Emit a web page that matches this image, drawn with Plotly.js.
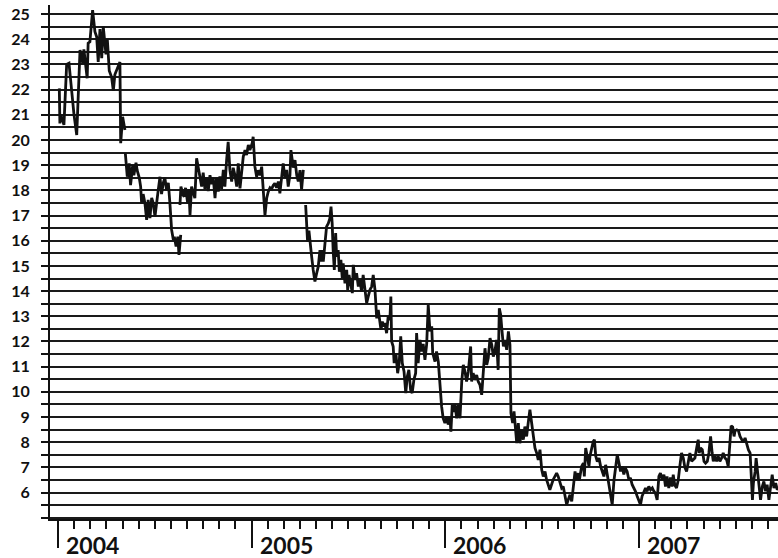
<!DOCTYPE html>
<html>
<head>
<meta charset="utf-8">
<script src="https://cdn.plot.ly/plotly-3.0.1.min.js"></script>
<style>html,body{margin:0;padding:0;background:#fff;}#chart{width:778px;height:558px;}</style>
</head>
<body>
<div id="chart"></div>
<script>
// decimal-year time axis; null marks a gap in the series
const t = [
2004.007,2004.010,2004.015,2004.031,2004.045,2004.057,2004.083,2004.097,2004.114,2004.128,2004.134,2004.145,2004.151,2004.156,2004.165,2004.179,2004.191,2004.200,2004.208,2004.217,2004.226,2004.234,2004.248,2004.255,2004.265,2004.277,2004.286,2004.294,2004.320,2004.324,2004.334,2004.346,
null,
2004.348,2004.358,2004.368,2004.375,2004.386,2004.392,2004.403,2004.409,2004.420,2004.427,2004.432,2004.440,2004.449,2004.458,2004.466,2004.475,2004.484,2004.492,2004.501,2004.510,2004.518,2004.527,2004.535,2004.544,2004.552,2004.561,2004.570,2004.578,2004.587,2004.596,2004.601,2004.610,2004.619,2004.625,2004.634,
null,
2004.630,2004.635,2004.647,2004.652,2004.659,2004.670,2004.676,2004.682,2004.690,2004.699,2004.707,2004.716,2004.724,2004.733,2004.742,2004.750,2004.759,2004.768,2004.776,2004.785,2004.794,2004.802,2004.811,2004.819,2004.828,2004.836,2004.845,2004.854,2004.862,2004.871,2004.879,2004.888,2004.897,2004.905,2004.914,2004.923,2004.931,2004.940,2004.948,2004.957,2004.966,2004.974,2004.983,2004.991,2005.003,2005.008,2005.017,2005.026,2005.034,2005.043,2005.052,2005.060,2005.069,2005.078,2005.086,2005.095,2005.103,2005.112,2005.120,2005.129,2005.138,2005.146,2005.155,2005.163,2005.172,2005.181,2005.189,2005.198,2005.203,2005.210,2005.215,2005.224,2005.233,2005.241,2005.250,2005.258,2005.267,
null,
2005.279,2005.284,2005.289,2005.296,2005.301,2005.310,2005.318,2005.327,2005.336,2005.344,2005.353,2005.358,2005.365,2005.370,2005.379,2005.387,2005.396,2005.404,2005.410,2005.416,2005.421,2005.427,2005.434,2005.439,2005.447,2005.453,2005.461,2005.468,2005.473,2005.482,2005.491,2005.496,2005.503,2005.513,2005.520,2005.525,2005.534,2005.542,2005.551,2005.559,2005.568,2005.576,2005.585,2005.594,2005.602,2005.611,2005.620,2005.628,2005.637,2005.642,2005.646,2005.654,2005.663,2005.668,2005.675,2005.683,2005.688,2005.697,2005.705,2005.714,2005.719,2005.723,2005.731,2005.736,2005.745,2005.754,2005.762,2005.770,2005.778,2005.787,2005.796,2005.804,2005.812,2005.821,2005.829,2005.838,2005.847,2005.852,2005.860,2005.869,2005.878,2005.886,2005.895,2005.904,2005.912,2005.921,2005.930,2005.935,2005.947,2005.955,2005.964,2005.972,2005.981,2005.989,2005.998,2006.007,2006.015,2006.024,2006.029,2006.036,2006.045,2006.050,2006.059,2006.067,2006.076,2006.085,2006.093,2006.102,2006.110,2006.119,2006.127,2006.131,2006.136,2006.144,2006.153,2006.162,2006.170,2006.179,2006.188,2006.196,2006.205,2006.214,2006.222,2006.231,2006.240,2006.248,2006.256,2006.265,2006.273,2006.279,2006.286,2006.291,2006.300,2006.308,2006.317,2006.326,2006.334,2006.339,2006.348,2006.355,2006.364,2006.369,2006.377,2006.385,2006.394,2006.403,2006.411,2006.420,2006.428,2006.437,2006.446,2006.454,2006.463,2006.472,2006.480,2006.489,2006.498,2006.506,2006.515,2006.523,2006.532,2006.540,2006.557,2006.575,2006.583,2006.592,2006.601,2006.609,2006.618,2006.627,2006.635,2006.644,2006.653,2006.661,2006.670,2006.678,2006.687,2006.692,2006.699,2006.704,2006.713,2006.718,2006.725,2006.733,2006.742,2006.747,2006.756,2006.764,2006.770,2006.777,2006.785,2006.794,2006.802,2006.811,2006.819,2006.828,2006.836,2006.845,2006.854,2006.862,2006.871,2006.879,2006.888,2006.897,2006.905,2006.913,2006.922,2006.930,2006.939,2006.948,2006.956,2006.965,2006.974,2006.982,2006.991,2006.999,2007.008,2007.016,2007.025,2007.034,2007.042,2007.051,2007.060,2007.069,2007.077,2007.085,2007.094,2007.103,2007.111,2007.120,2007.129,2007.137,2007.145,2007.154,2007.163,2007.171,2007.177,2007.185,2007.194,2007.203,2007.211,2007.220,2007.229,2007.237,2007.246,2007.254,2007.263,2007.272,2007.280,2007.289,2007.298,2007.306,2007.311,2007.318,2007.327,2007.336,2007.344,2007.353,2007.361,2007.370,2007.378,2007.384,2007.392,2007.401,2007.409,2007.418,2007.427,2007.435,2007.444,2007.453,2007.461,2007.470,2007.476,2007.484,2007.491,2007.496,2007.505,2007.514,2007.522,2007.531,2007.539,2007.548,2007.557,2007.565,2007.574,2007.579,2007.586,2007.591,2007.600,2007.605,2007.613,2007.620,2007.628,2007.637,2007.645,2007.654,2007.662,2007.671,2007.680,2007.688,2007.697,2007.706,2007.714,2007.723
];
const price = [
22.05,20.66,21.0,20.6,23.0,23.05,21.0,20.2,23.57,23.05,23.6,22.9,22.45,23.84,23.9,25.16,24.3,24.1,23.1,24.4,23.25,24.5,23.4,24.0,22.75,22.5,21.95,22.6,23.1,19.87,20.92,20.4,
null,
19.47,18.54,19.07,18.21,19.0,18.6,19.1,18.8,18.5,18.15,17.49,17.85,17.5,16.83,17.62,16.9,17.7,17.5,16.96,17.62,18.02,18.54,17.85,18.3,18.5,18.0,18.3,17.5,16.43,16.03,16.16,15.77,16.16,15.44,16.23,
null,
17.42,18.15,17.8,17.75,18.1,17.49,18.05,17.02,18.15,17.95,17.69,19.27,18.9,18.41,18.15,18.7,18.05,18.5,17.97,18.6,18.25,18.5,17.69,18.5,17.95,18.55,18.05,18.81,18.15,19.21,19.93,18.8,18.35,18.9,18.6,18.15,19.07,18.08,18.8,19.34,19.6,19.4,19.8,19.6,19.87,20.13,18.94,18.54,18.8,18.6,18.94,18.0,17.02,17.7,17.95,18.1,18.05,18.2,18.28,18.1,18.35,17.88,18.5,19.07,18.5,18.81,18.15,18.6,19.6,19.07,18.9,19.2,18.6,18.35,18.8,18.02,18.81,
null,
17.42,16.43,15.96,16.4,15.9,15.37,14.84,14.38,14.71,14.97,15.63,15.17,15.63,15.17,15.9,16.56,16.69,16.89,17.35,16.69,15.63,14.84,16.3,15.37,15.63,14.77,15.24,14.51,15.1,14.31,14.84,14.05,14.64,14.18,13.92,15.04,14.44,14.71,14.18,14.44,13.98,14.64,14.05,13.52,13.78,14.05,14.18,14.64,14.05,13.45,12.92,13.25,12.73,12.46,12.79,12.59,12.73,12.33,12.99,12.86,13.78,12.0,11.8,11.14,11.54,10.74,11.14,12.2,11.14,10.81,9.95,10.61,10.87,10.08,9.95,10.48,10.74,12.33,11.14,12.06,11.6,11.9,11.27,11.9,13.45,12.4,12.6,11.54,11.2,11.6,11.2,10.21,9.42,8.95,8.76,9.0,8.7,9.0,8.42,9.48,9.2,9.5,8.95,9.48,8.95,10.41,11.07,10.8,10.41,10.8,11.4,11.8,10.41,10.74,10.47,10.67,10.41,10.28,9.88,10.6,11.73,11.07,11.34,12.13,11.87,11.4,11.6,12.06,10.87,13.32,13.06,12.59,11.8,12.06,11.67,12.4,11.87,9.15,8.76,9.22,8.49,7.96,8.76,7.96,8.49,8.1,8.62,8.23,8.76,9.29,8.76,8.23,7.77,7.57,7.3,7.7,6.9,6.64,6.84,6.51,6.31,6.11,6.51,6.77,6.64,6.38,6.18,6.24,5.85,5.52,5.72,5.91,5.65,6.24,6.84,6.51,6.77,6.48,6.84,7.04,7.17,6.64,7.77,7.37,7.04,7.44,7.83,8.03,8.1,7.44,7.23,7.37,7.04,6.77,6.64,7.1,6.72,6.18,5.91,5.52,6.48,7.1,7.5,7.17,6.84,7.04,6.72,6.97,6.84,6.51,6.58,6.31,6.18,6.05,5.85,5.72,5.52,5.85,6.05,6.18,6.05,6.24,6.11,6.18,6.05,5.98,5.71,6.64,6.77,6.51,6.71,6.24,6.64,6.18,6.6,6.24,6.71,6.3,6.18,6.5,7.04,7.57,7.37,7.0,6.84,7.2,7.57,7.24,7.3,7.37,7.77,8.1,7.57,7.77,7.7,7.24,7.17,7.24,7.57,8.23,7.57,7.24,7.44,7.24,7.44,7.24,7.37,7.57,7.37,7.3,7.04,8.23,8.65,8.6,8.23,8.45,8.49,8.45,8.23,8.1,8.0,8.17,7.9,7.7,7.57,6.9,5.71,6.38,6.84,7.37,6.77,6.18,5.71,6.24,6.44,6.05,6.31,5.71,6.24,6.71,6.18,6.38,6.11,6.2
];
const yTickVals = [6,7,8,9,10,11,12,13,14,15,16,17,18,19,20,21,22,23,24,25];
const yTickText = ["6","7","8","9","10","11","12","13","14","15","16","17","18","19","20","21","22","23","24","25"];
const yearVals = [2004,2005,2006,2007];
const yearText = ["2004","2005","2006","2007"];

const font = {family: "Lato, 'Open Sans', sans-serif", color: "#111"};

const trace = {
  x: t, y: price, type: "scatter", mode: "lines", connectgaps: false,
  line: {color: "#111", width: 2.8}, hoverinfo: "skip"
};

const layout = {
  width: 778, height: 558,
  margin: {l: 50, r: 0, t: 5, b: 39},
  paper_bgcolor: "#fff", plot_bgcolor: "#fff",
  showlegend: false,
  font: font,
  xaxis: {
    type: "linear",
    range: [2003.959, 2007.718],
    tickmode: "array", tickvals: yearVals, ticktext: yearText,
    showticklabels: false,
    ticks: "outside", ticklen: 27, tickwidth: 2, tickcolor: "#111",
    showgrid: false, zeroline: false,
    showline: true, linecolor: "#111", linewidth: 2,
    minor: {tickmode: "linear", tick0: 2004, dtick: 1/12, ticks: "outside", ticklen: 8, tickwidth: 2, tickcolor: "#111", showgrid: false}
  },
  yaxis: {
    range: [4.95, 25.36],
    tickmode: "array", tickvals: yTickVals, ticktext: yTickText,
    ticks: "outside", ticklen: 7, tickwidth: 2, tickcolor: "#111",
    tickfont: {family: font.family, size: 16, color: "#111", weight: "bold"},
    ticklabelstandoff: 8,
    showgrid: true, gridcolor: "#1a1a1a", gridwidth: 2,
    zeroline: false,
    showline: true, linecolor: "#111", linewidth: 2,
    minor: {tickmode: "linear", tick0: 0, dtick: 0.5, ticks: "outside", ticklen: 7, tickwidth: 2, tickcolor: "#111", showgrid: true, gridcolor: "#1a1a1a", gridwidth: 2}
  },
  annotations: yearVals.map((v, i) => ({
    x: v, xref: "x", y: 0, yref: "paper",
    text: yearText[i], showarrow: false,
    xanchor: "left", yanchor: "top", xshift: 7, yshift: -11,
    borderpad: 0,
    font: {family: font.family, size: 23, color: "#111", weight: "bold"}
  }))
};

Plotly.newPlot("chart", [trace], layout, {staticPlot: true, displayModeBar: false});
</script>
</body>
</html>
